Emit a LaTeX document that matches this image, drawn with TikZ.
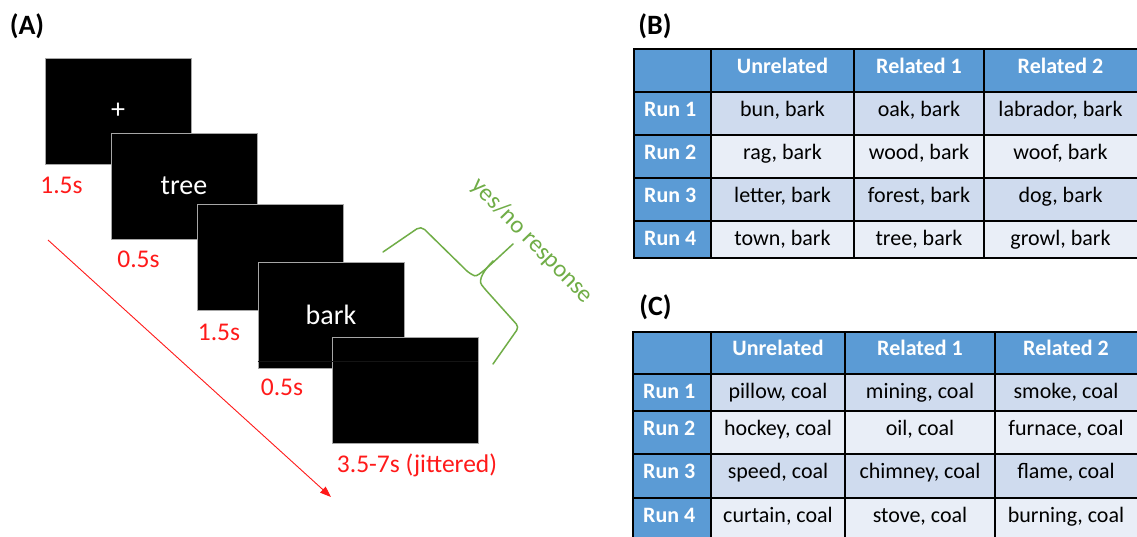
\documentclass[tikz,border=0pt]{standalone}
\usepackage{fontspec}
\setmainfont{Carlito}
\usetikzlibrary{arrows.meta}
\definecolor{hdrblue}{HTML}{5B9BD5}
\definecolor{rowA}{HTML}{CFDBEE}
\definecolor{rowB}{HTML}{E9EEF7}
\definecolor{respgreen}{HTML}{70AD47}
\definecolor{timered}{HTML}{FF1A1A}
\definecolor{screenedge}{HTML}{A6A6A6}
\begin{document}
\begin{tikzpicture}[x=1pt,y=-1pt,
  screen/.style={draw=screenedge,line width=0.8pt,fill=black,minimum width=146pt,minimum height=106pt,inner sep=0pt,text=white,font=\fontsize{28}{32}\selectfont},
  timelbl/.style={anchor=base,text=timered,inner sep=0pt,font=\fontsize{25.5}{30}\selectfont},
  panellbl/.style={anchor=center,inner sep=0pt,font=\fontsize{28}{32}\selectfont\bfseries},
  gridline/.style={draw=black,line width=1.5pt},
  hdrtxt/.style={anchor=base,inner sep=0pt,text=white,font=\fontsize{22}{26}\selectfont\bfseries},
  runtxt/.style={anchor=base west,inner sep=0pt,text=white,font=\fontsize{22}{26}\selectfont\bfseries},
  celltxt/.style={anchor=base,inner sep=0pt,text=black,font=\fontsize{22}{26}\selectfont},
  timearrow/.style={draw=timered,line width=0.9pt,-{Triangle[length=11pt,width=8pt]}},
  bracestyle/.style={draw=respgreen,line width=1.5pt,line join=round,line cap=round}]
\useasboundingbox (0,0) rectangle (1137,536);
\fill[white] (0,0) rectangle (1137,536);

% ---------- Panel A ----------
\node[panellbl] (labA) at (27,26) {(A)};

\node[screen] (s1) at (118,111) {+};
\node[screen] (s2) at (184,186) {tree};
\node[screen] (s3) at (270,257) {};
\node[screen] (s4) at (331,315) {bark};
\node[screen] (s5) at (405,390) {};
\draw[draw=black!92,line width=0.6pt] (s4.west |- 0,361) -- (s5.east |- 0,361);

\node[timelbl] (t1) at (61.5,193) {1.5s};
\node[timelbl] (t2) at (138.5,267) {0.5s};
\node[timelbl] (t3) at (219,340) {1.5s};
\node[timelbl] (t4) at (282,395) {0.5s};
\node[timelbl] (t5) at (417,472) {3.5-7s (jittered)};

\coordinate (tstart) at (48,240);
\coordinate (tend) at (331,497);
\draw[timearrow] (tstart) -- (tend);

% response brace
\coordinate (bA) at (383,252);
\coordinate (bB) at (493,364);
\coordinate (btip) at (513,244);
\draw[bracestyle,rounded corners=5pt] (bA) -- (421,226) -- (470,274)
   .. controls (478,277) and (489,266) .. (btip);
\draw[bracestyle,rounded corners=4pt] (493,261) .. controls (484,270) and (478,280) .. (484,288)
   -- (519,327) -- (bB);
\node[inner sep=0pt,text=respgreen,rotate=-46,font=\fontsize{24.5}{28}\selectfont] (resp) at (532,241) {yes/no response};

% ---------- Panel B ----------
\node[panellbl] (labB) at (655,26) {(B)};
\fill[hdrblue] (634,49) rectangle (1140,92);
\fill[hdrblue] (634,92) rectangle (711,258);
\fill[rowA] (711,92) rectangle (1140,135);
\fill[rowB] (711,135) rectangle (1140,178);
\fill[rowA] (711,178) rectangle (1140,221);
\fill[rowB] (711,221) rectangle (1140,258);
\draw[gridline] (634,49) rectangle (1140,258);
\foreach \yy in {92,135,178,221} \draw[gridline] (634,\yy) -- (1140,\yy);
\foreach \xx in {711,854,984} \draw[gridline] (\xx,49) -- (\xx,258);

\node[hdrtxt] (bh1) at (782.5,73) {Unrelated};
\node[hdrtxt] (bh2) at (919,73) {Related 1};
\node[hdrtxt] (bh3) at (1060.5,73) {Related 2};
\foreach \r/\yb/\ca/\cb/\cc in {
  1/116.5/{bun, bark}/{oak, bark}/{labrador, bark},
  2/159.5/{rag, bark}/{wood, bark}/{woof, bark},
  3/202.5/{letter, bark}/{forest, bark}/{dog, bark},
  4/245.5/{town, bark}/{tree, bark}/{growl, bark}}{
  \node[runtxt] (br\r) at (644,\yb) {Run \r};
  \node[celltxt] (bu\r) at (782.5,\yb) {\ca};
  \node[celltxt] (bo\r) at (919,\yb) {\cb};
  \node[celltxt] (bt\r) at (1060.5,\yb) {\cc};
}

% ---------- Panel C ----------
\node[panellbl] (labC) at (655.5,307.5) {(C)};
\fill[hdrblue] (633,332) rectangle (1140,374);
\fill[hdrblue] (633,374) rectangle (711,545);
\fill[rowA] (711,374) rectangle (1140,411);
\fill[rowB] (711,411) rectangle (1140,454);
\fill[rowA] (711,454) rectangle (1140,498);
\fill[rowB] (711,498) rectangle (1140,545);
\draw[gridline] (633,545) -- (633,332) -- (1140,332);
\foreach \yy in {374,411,454,498} \draw[gridline] (633,\yy) -- (1140,\yy);
\foreach \xx in {711,845,995} \draw[gridline] (\xx,332) -- (\xx,545);

\node[hdrtxt] (ch1) at (778,355) {Unrelated};
\node[hdrtxt] (ch2) at (920,355) {Related 1};
\node[hdrtxt] (ch3) at (1066,355) {Related 2};
\foreach \r/\yb/\ca/\cb/\cc in {
  1/398/{pillow, coal}/{mining, coal}/{smoke, coal},
  2/435.5/{hockey, coal}/{oil, coal}/{furnace, coal},
  3/478/{speed, coal}/{chimney, coal}/{flame, coal},
  4/522/{curtain, coal}/{stove, coal}/{burning, coal}}{
  \node[runtxt] (cr\r) at (643,\yb) {Run \r};
  \node[celltxt] (cu\r) at (778,\yb) {\ca};
  \node[celltxt] (co\r) at (920,\yb) {\cb};
  \node[celltxt] (ct\r) at (1066,\yb) {\cc};
}
\end{tikzpicture}
\end{document}
